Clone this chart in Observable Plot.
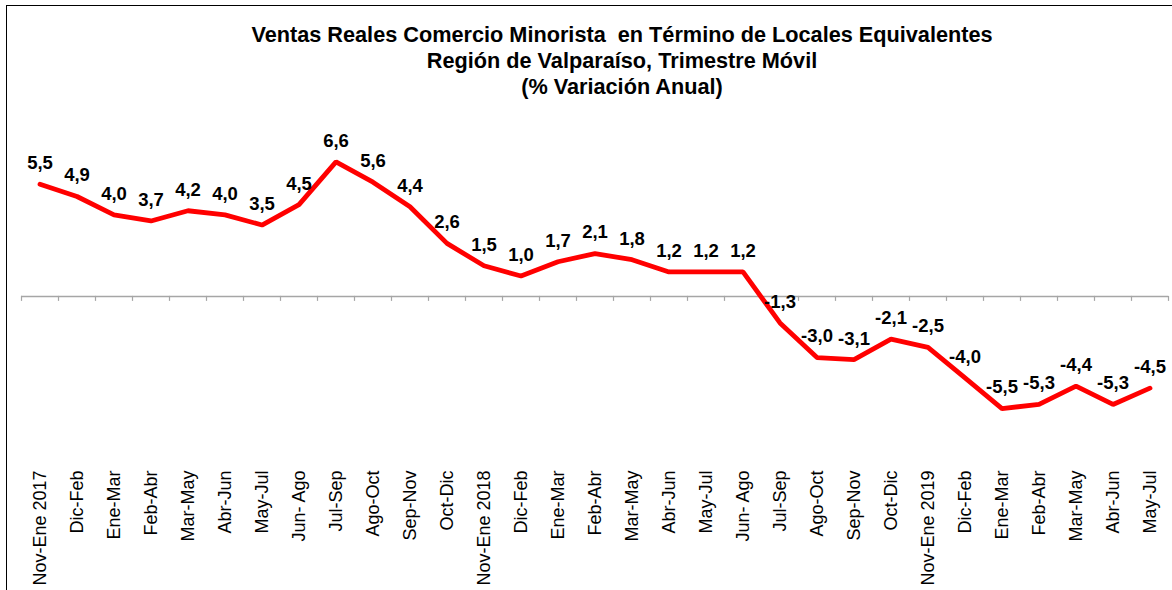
<!DOCTYPE html>
<html>
<head>
<meta charset="utf-8">
<script src="https://cdn.jsdelivr.net/npm/d3@7"></script>
<script src="https://cdn.jsdelivr.net/npm/@observablehq/plot@0.6"></script>
<style>
  html, body { margin: 0; padding: 0; width: 1172px; height: 590px; overflow: hidden; background: #fff; }
  #wrap { position: relative; width: 1172px; height: 590px; font-family: "Liberation Sans", Arial, sans-serif; }
  #frame { position: absolute; left: 6px; top: 5px; width: 1300px; height: 800px; border: 1.5px solid #000; box-sizing: border-box; }
  #title { position: absolute; left: 0; top: 22px; width: 1244px; text-align: center; font-weight: bold; font-size: 21.7px; line-height: 26px; color: #000; white-space: pre; }
  #chart { position: absolute; left: 0; top: 0; }
</style>
</head>
<body>
<div id="wrap">
  <div id="frame"></div>
  <div id="chart"></div>
  <div id="title">Ventas Reales Comercio Minorista  en Término de Locales Equivalentes
Región de Valparaíso, Trimestre Móvil
(% Variación Anual)</div>
</div>
<script>
const labels = ["Nov-Ene 2017","Dic-Feb","Ene-Mar","Feb-Abr","Mar-May","Abr-Jun","May-Jul","Jun- Ago","Jul-Sep","Ago-Oct","Sep-Nov","Oct-Dic",
  "Nov-Ene 2018","Dic-Feb","Ene-Mar","Feb-Abr","Mar-May","Abr-Jun","May-Jul","Jun- Ago","Jul-Sep","Ago-Oct","Sep-Nov","Oct-Dic",
  "Nov-Ene 2019","Dic-Feb","Ene-Mar","Feb-Abr","Mar-May","Abr-Jun","May-Jul"];
const values = [5.5,4.9,4.0,3.7,4.2,4.0,3.5,4.5,6.6,5.6,4.4,2.6,1.5,1.0,1.7,2.1,1.8,1.2,1.2,1.2,-1.3,-3.0,-3.1,-2.1,-2.5,-4.0,-5.5,-5.3,-4.4,-5.3,-4.5];

const data = values.map((v, i) => ({i, v, label: labels[i]}));
const idx = d3.range(labels.length);
const bounds = d3.range(labels.length + 1).map(k => k - 0.5);
const fmt = v => v.toFixed(1).replace(".", ",");

const chart = Plot.plot({
  width: 1172,
  height: 590,
  marginLeft: 21,
  marginRight: 4,
  marginTop: 92,
  marginBottom: 131,
  style: {fontFamily: '"Liberation Sans", Arial, sans-serif', background: "transparent", overflow: "visible"},
  x: {type: "linear", domain: [-0.5, labels.length - 0.5]},
  y: {domain: [-8, 10], axis: null},
  marks: [
    Plot.ruleY([0], {stroke: "#a6a6a6", strokeWidth: 1.5}),
    Plot.ruleX(bounds, {x: d => d, y1: 0, y2: 0, insetBottom: -5, stroke: "#a6a6a6", strokeWidth: 1.2}),
    Plot.axisX(idx, {anchor: "bottom", tickSize: 0, tickPadding: 11, tickRotate: -90, tickFormat: i => labels[i], fontSize: 18, fill: "#000", label: null}),
    Plot.line(data, {x: "i", y: "v", stroke: "#ff0000", strokeWidth: 4.8, strokeLinejoin: "miter"}),
    Plot.text(data, {x: "i", y: "v", text: d => fmt(d.v), dy: -21, fontSize: 18.5, fontWeight: "bold", fill: "#000"})
  ]
});
document.getElementById("chart").appendChild(chart);
</script>
</body>
</html>
